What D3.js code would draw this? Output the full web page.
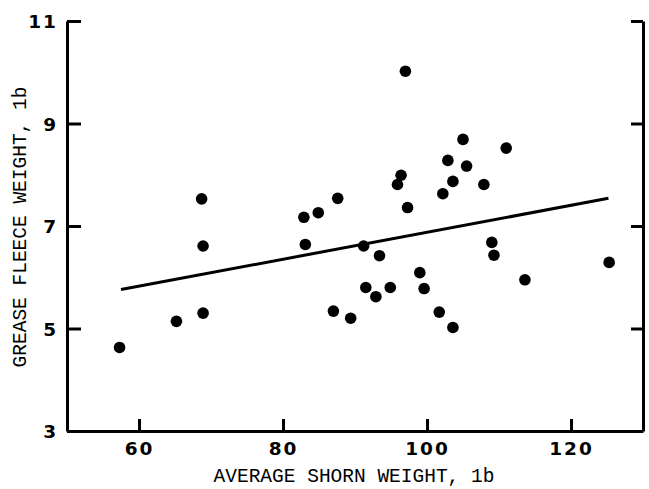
<!DOCTYPE html>
<html>
<head>
<meta charset="utf-8">
<script src="https://cdn.jsdelivr.net/npm/d3@7"></script>
<style>
  body { margin: 0; background: #fff; }
  svg { display: block; }
  .tick text { font-family: "DejaVu Sans", sans-serif; font-weight: bold; font-size: 18.5px; letter-spacing: 2px; fill: #000; }
  .title { font-family: "Liberation Mono", "DejaVu Sans Mono", monospace; font-size: 19.5px; fill: #000; }
</style>
</head>
<body>
<svg id="chart" width="649" height="489"></svg>
<script>
// shorn weight (lb) vs grease fleece weight (lb)
var shorn  = [57.3, 65.2, 68.9, 68.7, 68.9, 82.9, 84.9, 87.6, 83.1, 91.2, 93.4, 91.5,
              92.9, 94.9, 87.0, 89.4, 97.0, 105.0, 111.0, 102.9, 105.5, 96.4, 95.9, 103.6,
              107.9, 102.2, 97.3, 109.0, 109.3, 125.3, 113.6, 99.0, 99.6, 101.7, 103.6];
var fleece = [4.63, 5.14, 5.30, 7.53, 6.61, 7.17, 7.26, 7.54, 6.64, 6.61, 6.42, 5.80,
              5.62, 5.80, 5.34, 5.20, 10.02, 8.69, 8.52, 8.28, 8.17, 7.99, 7.81, 7.87,
              7.81, 7.63, 7.36, 6.68, 6.43, 6.29, 5.95, 6.09, 5.78, 5.32, 5.02];

// fitted line end points
var fitX = [57.5, 125.2];
var fitY = [5.76, 7.54];

var xTicks = [60, 80, 100, 120];
var yTicks = [3, 5, 7, 9, 11];

var svg = d3.select("#chart");
var mLeft = 67, mRight = 643, mTop = 21, mBottom = 431;

var x = d3.scaleLinear().domain([50, 130]).range([mLeft, mRight]);
var y = d3.scaleLinear().domain([3, 11]).range([mBottom, mTop]);

function styleAxis(g) {
    g.selectAll("path.domain").attr("stroke", "#000").attr("stroke-width", 3);
    g.selectAll(".tick line").attr("stroke", "#000").attr("stroke-width", 3);
}

svg.append("g")
    .attr("transform", "translate(0," + mBottom + ")")
    .call(d3.axisBottom(x).tickValues(xTicks).tickSizeInner(-12).tickSizeOuter(0).tickPadding(11))
    .call(styleAxis);

svg.append("g")
    .attr("transform", "translate(" + mLeft + ",0)")
    .call(d3.axisLeft(y).tickValues(yTicks).tickSizeInner(-14).tickSizeOuter(0).tickPadding(9))
    .call(styleAxis)
    .selectAll(".tick text").attr("dy", "0.36em");

svg.append("g")
    .attr("transform", "translate(" + mRight + ",0)")
    .call(d3.axisRight(y).tickValues(yTicks).tickSizeInner(-12).tickSizeOuter(0).tickFormat(""))
    .call(styleAxis);

var pts = shorn.map(function(d, i) { return [d, fleece[i]]; });

svg.append("g").selectAll("circle")
    .data(pts)
    .enter().append("circle")
    .attr("cx", function(d) { return x(d[0]); })
    .attr("cy", function(d) { return y(d[1]); })
    .attr("r", 5.8)
    .attr("fill", "#000");

var line = d3.line()
    .x(function(d) { return x(d[0]); })
    .y(function(d) { return y(d[1]); });

svg.append("path")
    .attr("d", line(fitX.map(function(d, i) { return [d, fitY[i]]; })))
    .attr("stroke", "#000")
    .attr("stroke-width", 3)
    .attr("fill", "none");

svg.append("text")
    .attr("class", "title")
    .attr("x", 354)
    .attr("y", 482)
    .attr("text-anchor", "middle")
    .text("AVERAGE SHORN WEIGHT, 1b");

svg.append("text")
    .attr("class", "title")
    .attr("transform", "translate(26,227) rotate(-90)")
    .attr("text-anchor", "middle")
    .text("GREASE FLEECE WEIGHT, 1b");
</script>
</body>
</html>
